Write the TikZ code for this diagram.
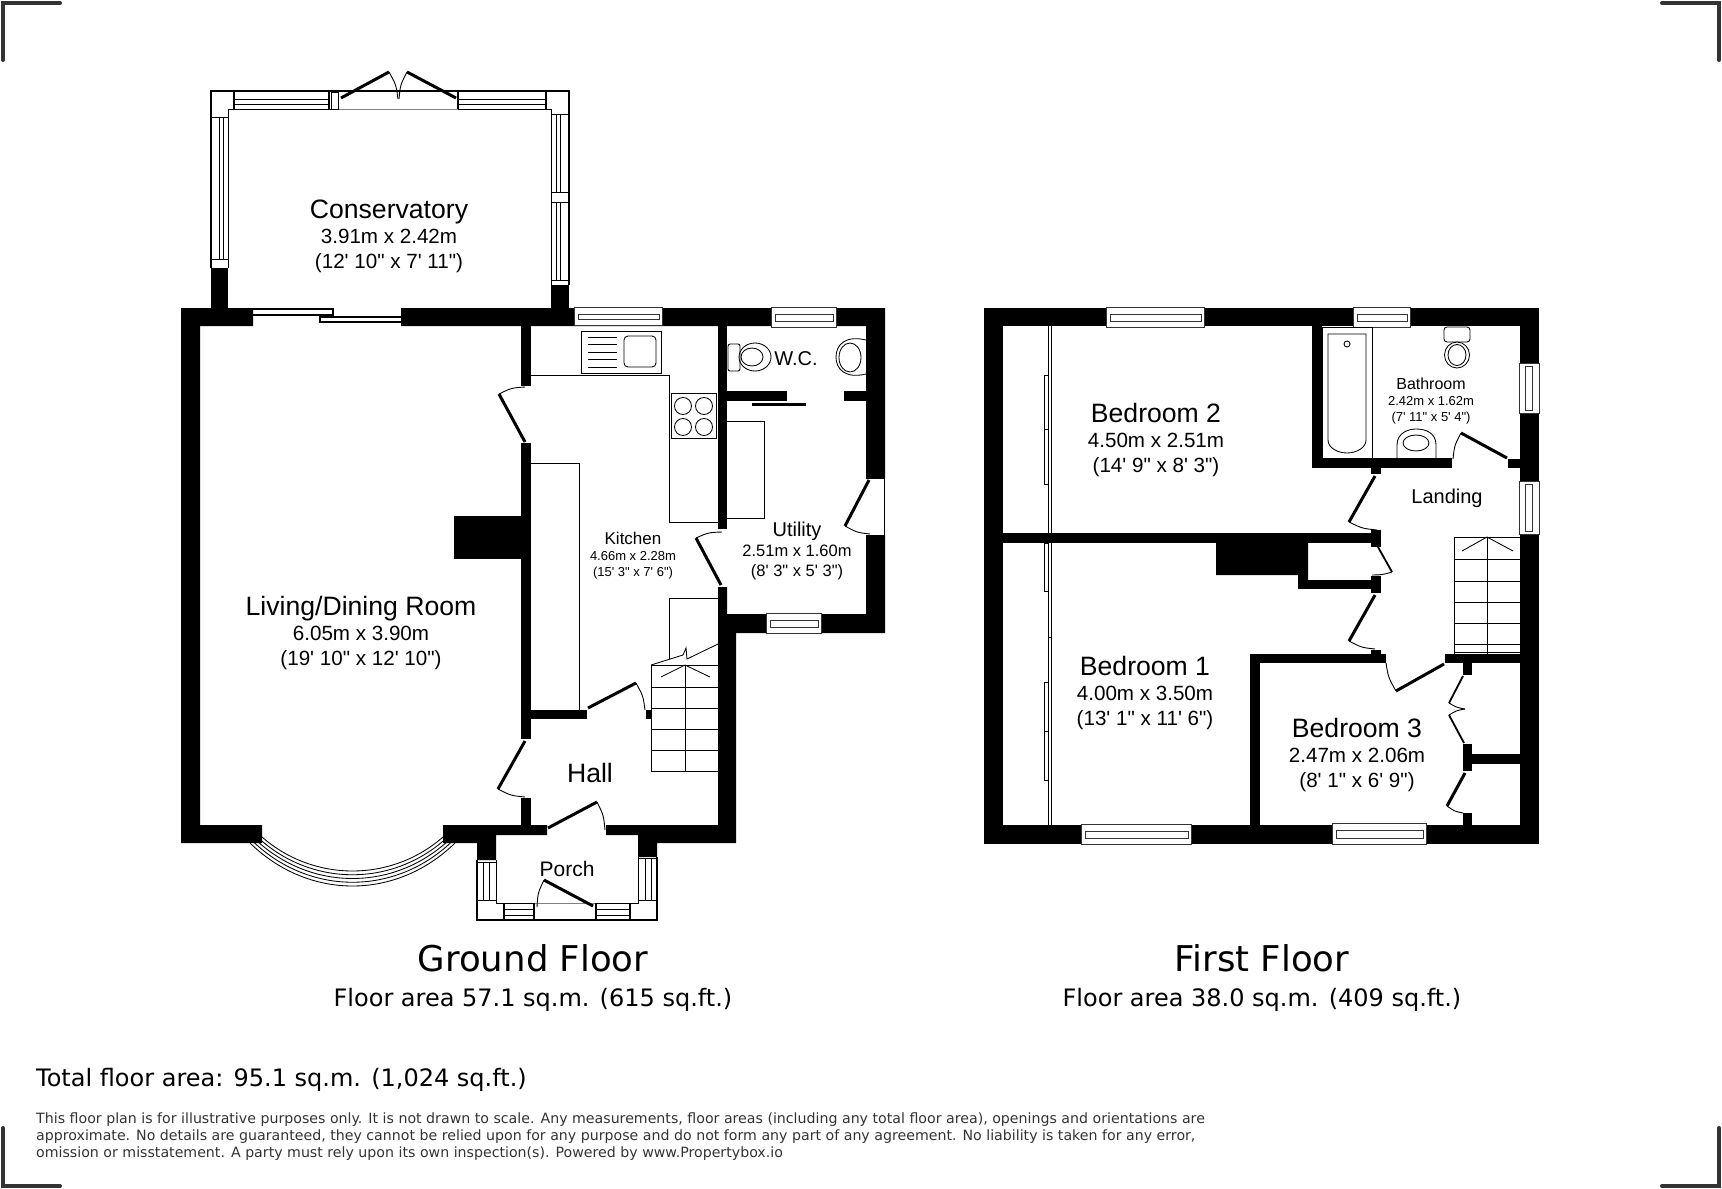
\documentclass[tikz,border=0pt]{standalone}
\usepackage{fontspec}
\setmainfont[Ligatures=TeXOff]{Liberation Sans}
\newfontfamily\planfont{DejaVu Sans}
\usetikzlibrary{calc}
\definecolor{inkgrey}{HTML}{333333}
\newcommand{\fz}[1]{\fontsize{#1}{#1}\selectfont}
\begin{document}
\begin{tikzpicture}[x=1pt,y=-1pt,
  wall/.style={fill=black,draw=none},
  fitting/.style={draw=black,line width=.85pt},
  pane/.style={draw=black!80,fill=white,line width=.9pt},
  frameline/.style={draw=black,line width=1.5pt},
  leaf/.style={draw=black,line width=3pt},
  thinleaf/.style={draw=black,line width=1.8pt},
  swing/.style={draw=black,line width=.9pt},
  crop/.style={draw=inkgrey,line width=4pt,line cap=round},
  bigroom/.style={align=center,inner sep=0pt,font=\fontsize{20.6}{25}\selectfont},
  midroom/.style={align=center,inner sep=0pt,font=\fontsize{16.5}{20}\selectfont},
  smallroom/.style={align=center,inner sep=0pt,font=\fontsize{13}{16}\selectfont},
  title/.style={inner sep=0pt,font=\planfont\fz{35.5}},
  area/.style={inner sep=0pt,font=\planfont\fz{24}}]
  \useasboundingbox (0,0) rectangle (1722,1189);

  % crop marks
  \draw[crop] (60,3) -- (3,3) -- (3,60);
  \draw[crop] (1662,3) -- (1719,3) -- (1719,60);
  \draw[crop] (3,1128) -- (3,1186) -- (60,1186);
  \draw[crop] (1719,1128) -- (1719,1186) -- (1662,1186);

  % ground floor walls
  \fill[wall] (181,308) -- (253,308) -- (253,326) -- (200,326) -- (200,825) -- (262,825) -- (262,843) -- (181,843) -- cycle;
  \fill[wall] (401,308) -- (885,308) -- (885,478) -- (866,478) -- (866,326) -- (401,326) -- cycle;
  \fill[wall] (866,535) -- (885,535) -- (885,633) -- (736,633) -- (736,843) -- (657,843) -- (657,857) -- (638,857)
    -- (638,835) -- (606,835) -- (606,825) -- (718,825) -- (718,587) -- (727,587) -- (727,614) -- (866,614) -- cycle;
  \fill[wall] (443,825) -- (547,825) -- (547,835) -- (496,835) -- (496,860) -- (477,860) -- (477,843) -- (443,843) -- cycle;
  \foreach \xa/\ya/\xb/\yb in {211/268/228/308,551/285/569/308,521/326/531/386,521/443/531/739,521/710/587/719,
      521/798/531/825,646/710/651/719,718/326/727/529,727/391/787/401,844/391/866/401,454/516/521/559}
    \fill[wall] (\xa,\ya) rectangle (\xb,\yb);

  % first floor walls
  \foreach \xa/\ya/\xb/\yb in {984/308/1539/326,984/308/1003/844,984/825/1539/844,1520/308/1539/844,
      1003/533/1381/543,1371/530/1381/547,1298/580/1381/589,1371/576/1381/593,1312/326/1322/468,1312/458/1452/468,
      1371/468/1381/474,1508/459/1520/468,1250/654/1386/663,1250/654/1260/825,1371/650/1381/654,1445/654/1520/663,
      1463/663/1472/675,1463/744/1472/771,1472/754/1520/764,1463/813/1472/825}
    \fill[wall] (\xa,\ya) rectangle (\xb,\yb);
  \fill[wall] (1216,543) -- (1308,543) -- (1308,580) -- (1298,580) -- (1298,575) -- (1216,575) -- cycle;

  % windows in the walls
  \foreach \xa/\ya/\xb/\yb in {574/307/662/325,771/307/836/327,766/613/821/633,1106/307/1204/327,
      1081/824/1191/844,1353/307/1410/327,1332/823/1426/844} {
    \draw[pane] (\xa,\ya) rectangle (\xb,\yb);
    \draw[fitting,black!80] (\xa+4,\ya+7) rectangle (\xb-3,\yb-6);
  }
  \foreach \ya/\yb in {363/413,481/534} {
    \draw[pane] (1519,\ya) rectangle (1539,\yb);
    \draw[fitting,black!80] (1525,\ya+3) rectangle (1532,\yb-3);
  }
  \draw[fitting,fill=white] (866,478) -- (884,478) -- (884,535) -- (866,535);

  % conservatory
  \draw[frameline] (211,117) -- (211,91) -- (569,91) -- (569,114);
  \draw[fitting] (228,268) -- (228,109) -- (338,109);
  \draw[fitting] (458,109) -- (551,109) -- (551,285);
  \draw[swing,gray] (338,109) -- (458,109);
  \draw[frameline] (211,117) -- (211,268);
  \draw[frameline] (569,114) -- (569,285);
  \draw[fitting] (211,117) -- (228,117) (233,91) -- (233,109);
  \draw[fitting] (551,114) -- (569,114) (546,91) -- (546,109);
  \foreach \xa/\xb in {234/329,458/546} {
    \draw[frameline] (\xa,92) -- (\xa,109) (\xb,92) -- (\xb,109);
    \draw[fitting] (\xa,99) -- (\xb,99) (\xa,104) -- (\xb,104);
  }
  \draw[fitting] (331,92) rectangle (338,109);
  \foreach \ya/\yb in {118/259} \draw[fitting] (219,\ya) -- (219,\yb) (223,\ya) -- (223,\yb);
  \draw[fitting] (211,259) -- (228,259) (211,268) -- (228,268);
  \foreach \ya/\yb in {114/192,202/280} \draw[fitting] (556,\ya) -- (556,\yb) (560,\ya) -- (560,\yb);
  \draw[fitting] (551,192) -- (569,192) (551,202) -- (569,202) (551,280) -- (569,280);

  % sliding doors to the conservatory
  \draw[frameline] (253,309) -- (333,309) -- (333,315) -- (253,315);
  \draw[frameline] (401,317) -- (320,317) -- (320,322) -- (401,322);

  % bay window
  \foreach \t [evaluate=\t as \xa using 262-3*\t,evaluate=\t as \xb using 443+3*\t,
      evaluate=\t as \ye using 837+1.5*\t,evaluate=\t as \cy using \ye+1.333*(871+3.75*\t-\ye)] in {0,1,2,3,4}
    \draw[fitting] (\xa,\ye) .. controls (\xa+0.286*\xb-0.286*\xa,\cy) and (\xb-0.286*\xb+0.286*\xa,\cy) .. (\xb,\ye);
  \draw[fitting] (250,843) -- (262,837) (455,843) -- (443,837);

  % porch
  \draw[frameline] (477,860) -- (477,920) -- (657,920) -- (657,857);
  \draw[fitting] (496,860) -- (496,903) -- (534,903) (596,903) -- (638,903) -- (638,857);
  \draw[swing,gray] (534,903) -- (596,903);
  \foreach \xa/\xb in {504/534,596/630} {
    \draw[frameline] (\xa,903) -- (\xa,920) (\xb,903) -- (\xb,920);
    \draw[fitting] (\xa,909) -- (\xb,909) (\xa,915) -- (\xb,915);
  }
  \draw[fitting] (477,862) -- (496,862) (477,900) -- (496,900);
  \draw[fitting] (483,862) -- (483,900) (489,862) -- (489,900);
  \draw[fitting] (638,858) -- (657,858) (638,900) -- (657,900);
  \draw[fitting] (645,858) -- (645,900) (651,858) -- (651,900);

  % doors, given by hinge, open end and closed end
  \foreach \ax/\ay/\bx/\by/\cx/\cy in {588/708/636/683/645/710,525/741/498/789/525/797,525/442/499/394/525/387,
      721/585/696/538/722/532,869/480/845/526/870/534,548/828/597/802/605/830,593/906/544/880/537/907,
      341/98/389/72/398/99,456/98/407/72/399/99,1375/476/1349/522/1377/530,1507/458/1461/433/1453/459,
      1375/595/1349/641/1375/649,1444/664/1396/691/1386/663,1465/773/1447/806/1463/813} {
    \draw[leaf] (\ax,\ay) -- (\bx,\by);
    \draw[swing] (\bx,\by) .. controls ($(\ax,\ay)!1.05!($(\bx,\by)!.5!(\cx,\cy)$)$) .. (\cx,\cy);
  }
  \foreach \ax/\ay/\bx/\by/\cx/\cy in {1378/547/1392/572/1372/575,1463/676/1449/703/1465/709,1464/743/1449/715/1465/709} {
    \draw[thinleaf] (\ax,\ay) -- (\bx,\by);
    \draw[swing] (\bx,\by) .. controls ($(\ax,\ay)!1.05!($(\bx,\by)!.5!(\cx,\cy)$)$) .. (\cx,\cy);
  }
  \draw[line width=3.5pt] (752,404.5) -- (806,404.5);

  % kitchen units
  \draw[fitting] (531,375) -- (669,375) -- (669,522) -- (718,522);
  \draw[fitting] (531,463) -- (579,463) -- (579,710);
  \draw[fitting] (727,421) -- (764,421) -- (764,518) -- (727,518);
  \draw[fitting,fill=white] (581,331) rectangle (661,373);
  \foreach \y in {337,344,352,359,367} \draw[fitting] (588,\y) -- (617,\y);
  \draw[fitting,rounded corners=4pt] (624,336) rectangle (656,367);
  \draw[fitting,fill=white] (671,393) rectangle (716,438);
  \foreach \x in {683,704} \foreach \y in {406,427} \draw[fitting] (\x,\y) circle (8.5);

  % stairs
  \draw[fitting] (718,598) -- (669,598) -- (669,659);
  \draw[fitting] (651,665) -- (683,655) -- (686,648) -- (687,659) -- (718,644);
  \foreach \y in {665,687,708,729,750,771} \draw[fitting] (651,\y) -- (718,\y);
  \draw[fitting] (651,665) -- (651,771) (685,665) -- (685,771);
  \draw[fitting] (661,677) -- (685,665) -- (710,677);
  \foreach \y in {537,559,581,602,623,644,652} \draw[fitting] (1454,\y) -- (1520,\y);
  \draw[fitting] (1454,537) -- (1454,654) (1487,537) -- (1487,654);
  \draw[fitting] (1462,551) -- (1487,537) -- (1513,551);

  % wardrobes
  \draw[fitting] (1048,326) -- (1048,533) (1051,326) -- (1051,533) (1048,543) -- (1048,825) (1051,543) -- (1051,825);
  \foreach \ya/\yb in {375/429,429/484,543/591,682/731,731/780} \draw[fitting] (1044,\ya) rectangle (1048,\yb);
  \draw[fitting] (1048,637) -- (1051,637);

  % sanitary ware
  \draw[fitting,rounded corners=2pt] (728,344) rectangle (740,371);
  \draw[fitting] (755,357) ellipse (16 and 14);
  \draw[fitting] (752,357) ellipse (11 and 9);
  \draw[fitting] (866,340) .. controls (845,335) and (836,345) .. (836,357) .. controls (836,369) and (845,379) .. (866,374);
  \draw[fitting] (850,357.5) ellipse (11 and 14.5);
  \draw[fitting] (1322,327) rectangle (1372,458);
  \draw[fitting] (1328,334) -- (1366,334) -- (1366,440) .. controls (1366,448) and (1356,453) .. (1347,453)
    .. controls (1338,453) and (1328,448) .. (1328,440) -- cycle;
  \draw[fitting] (1347,344) circle (3);
  \draw[fitting,rounded corners=3pt] (1444,327) rectangle (1470,342);
  \draw[fitting,fill=white] (1457,355) ellipse (12.5 and 13);
  \draw[fitting] (1457,355) ellipse (9 and 10.5);
  \draw[fitting] (1397,458) -- (1397,445) .. controls (1397,433) and (1408,429) .. (1416,429)
    .. controls (1426,429) and (1436,433) .. (1436,445) -- (1436,458);
  \draw[fitting] (1416,443) ellipse (13 and 8);

  % room labels
  \node[bigroom] (conservatory) at (389,236) {{\fz{26.6}Conservatory}\\3.91m x 2.42m\\(12' 10" x 7' 11")};
  \node[bigroom] (living) at (361,633) {{\fz{26.6}Living/Dining Room}\\6.05m x 3.90m\\(19' 10" x 12' 10")};
  \node[smallroom] (kitchen) at (633,556) {{\fz{17}Kitchen}\\4.66m x 2.28m\\(15' 3" x 7' 6")};
  \node[midroom] (utility) at (797,551) {{\fz{20}Utility}\\2.51m x 1.60m\\(8' 3" x 5' 3")};
  \node[inner sep=0pt,font=\fz{20}] (wc) at (796,359) {W.C.};
  \node[inner sep=0pt,font=\fz{26.6}] (hall) at (590,773) {Hall};
  \node[inner sep=0pt,font=\fz{21}] (porch) at (567,869) {Porch};
  \node[bigroom] (bedtwo) at (1156,440) {{\fz{26.6}Bedroom 2}\\4.50m x 2.51m\\(14' 9" x 8' 3")};
  \node[bigroom] (bedone) at (1145,693) {{\fz{26.6}Bedroom 1}\\4.00m x 3.50m\\(13' 1" x 11' 6")};
  \node[bigroom] (bedthree) at (1357,755) {{\fz{26.6}Bedroom 3}\\2.47m x 2.06m\\(8' 1" x 6' 9")};
  \node[smallroom] (bathroom) at (1431,401) {{\fz{16}Bathroom}\\2.42m x 1.62m\\(7' 11" x 5' 4")};
  \node[inner sep=0pt,font=\fz{20}] (landing) at (1447,498) {Landing};

  % captions
  \node[title] (ground) at (533,958) {Ground Floor};
  \node[area] (groundarea) at (533,1000) {Floor area 57.1 sq.m. (615 sq.ft.)};
  \node[title] (first) at (1262,958) {First Floor};
  \node[area] (firstarea) at (1262,1000) {Floor area 38.0 sq.m. (409 sq.ft.)};
  \node[inner sep=0pt,anchor=west,font=\planfont\fz{24}] (total) at (36,1080) {Total floor area: 95.1 sq.m. (1,024 sq.ft.)};
  \node[inner sep=0pt,anchor=north west,align=left,text=inkgrey,font=\planfont\fontsize{14.17}{17}\selectfont] (disclaimer) at (36,1113)
    {This floor plan is for illustrative purposes only. It is not drawn to scale. Any measurements, floor areas (including any total floor area), openings and orientations are\\
     approximate. No details are guaranteed, they cannot be relied upon for any purpose and do not form any part of any agreement. No liability is taken for any error,\\
     omission or misstatement. A party must rely upon its own inspection(s). Powered by www.Propertybox.io};
\end{tikzpicture}
\end{document}
